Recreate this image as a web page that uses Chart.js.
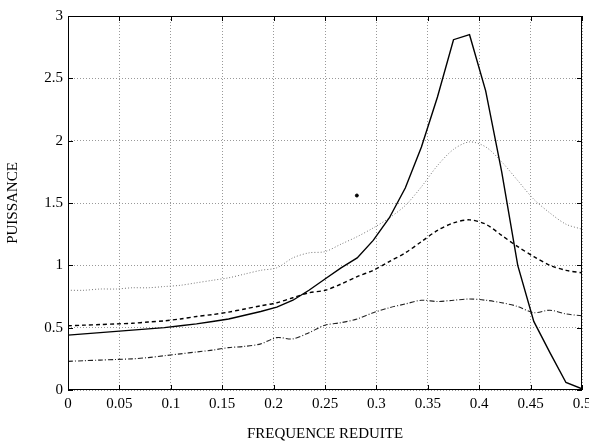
<!DOCTYPE html>
<html>
<head>
<meta charset="utf-8">
<script src="https://cdn.jsdelivr.net/npm/chart.js@4.4.1/dist/chart.umd.min.js"></script>
<style>
  body { margin: 0; background: #fff; }
  #wrap { width: 589px; height: 444px; }
</style>
</head>
<body>
<div id="wrap"><canvas id="chart-psd" width="589" height="444"></canvas></div>
<script>
// reduced frequency (x axis)
let freq = [0, 0.0156, 0.0313, 0.0469, 0.0625, 0.0781, 0.0938, 0.1094, 0.125, 0.1406,
  0.1563, 0.1719, 0.1875, 0.2031, 0.2188, 0.2344, 0.25, 0.2656, 0.2813, 0.2969,
  0.3125, 0.3281, 0.3438, 0.3594, 0.375, 0.3906, 0.4063, 0.4219, 0.4375, 0.4531,
  0.4688, 0.4844, 0.5];

// power spectra
let solid = [0.44, 0.45, 0.46, 0.47, 0.48, 0.49, 0.50, 0.515, 0.53, 0.55,
  0.57, 0.60, 0.63, 0.665, 0.72, 0.80, 0.89, 0.98, 1.06, 1.20,
  1.38, 1.62, 1.95, 2.35, 2.81, 2.85, 2.40, 1.75, 1.00, 0.55,
  0.30, 0.06, 0.01];
let dotted = [0.80, 0.80, 0.81, 0.81, 0.82, 0.82, 0.83, 0.84, 0.86, 0.88,
  0.90, 0.93, 0.96, 0.98, 1.06, 1.10, 1.11, 1.17, 1.23, 1.30,
  1.38, 1.48, 1.63, 1.80, 1.93, 1.99, 1.95, 1.83, 1.68, 1.53,
  1.42, 1.33, 1.29];
let dashed = [0.515, 0.52, 0.525, 0.53, 0.535, 0.545, 0.555, 0.57, 0.59, 0.605,
  0.625, 0.65, 0.675, 0.70, 0.74, 0.78, 0.80, 0.85, 0.91, 0.96,
  1.03, 1.10, 1.19, 1.28, 1.34, 1.365, 1.33, 1.24, 1.15, 1.07,
  1.00, 0.96, 0.94];
let dashDot = [0.23, 0.235, 0.24, 0.245, 0.25, 0.26, 0.275, 0.29, 0.305, 0.32,
  0.34, 0.35, 0.37, 0.42, 0.41, 0.46, 0.52, 0.54, 0.57, 0.62,
  0.66, 0.69, 0.72, 0.71, 0.72, 0.73, 0.72, 0.70, 0.67, 0.62,
  0.64, 0.61, 0.595];
// stray dot in the original figure
let strayX = [0.281];
let strayY = [1.56];

let xTicks = [0, 0.05, 0.1, 0.15, 0.2, 0.25, 0.3, 0.35, 0.4, 0.45, 0.5];
let yTicks = [0, 0.5, 1, 1.5, 2, 2.5, 3];

const toPoints = (ys) => ys.map((y, i) => ({ x: freq[i], y: y }));

// matlab style box with inward ticks
const boxTicks = {
  id: 'boxTicks',
  afterDatasetsDraw(chart) {
    const { ctx, chartArea: a, scales } = chart;
    ctx.save();
    ctx.strokeStyle = '#000';
    ctx.lineWidth = 1;
    ctx.setLineDash([]);
    ctx.strokeRect(a.left + 0.5, a.top + 0.5, a.right - a.left - 1, a.bottom - a.top - 1);
    ctx.beginPath();
    xTicks.forEach((v) => {
      const px = Math.round(scales.x.getPixelForValue(v)) + 0.5;
      ctx.moveTo(px, a.bottom); ctx.lineTo(px, a.bottom - 5);
      ctx.moveTo(px, a.top); ctx.lineTo(px, a.top + 5);
    });
    yTicks.forEach((v) => {
      const py = Math.round(scales.y.getPixelForValue(v)) + 0.5;
      ctx.moveTo(a.left, py); ctx.lineTo(a.left + 5, py);
      ctx.moveTo(a.right, py); ctx.lineTo(a.right - 5, py);
    });
    ctx.stroke();
    ctx.restore();
  }
};

const serif = "'Liberation Serif', 'DejaVu Serif', serif";

new Chart(document.getElementById('chart-psd').getContext('2d'), {
  type: 'line',
  data: {
    datasets: [
      {
        data: toPoints(solid),
        borderColor: '#000',
        borderWidth: 1.4,
        pointRadius: 0,
        tension: 0
      },
      {
        data: toPoints(dotted),
        borderColor: '#777',
        borderWidth: 1,
        borderDash: [1, 2],
        pointRadius: 0,
        tension: 0.3
      },
      {
        data: toPoints(dashed),
        borderColor: '#000',
        borderWidth: 1.4,
        borderDash: [4, 3],
        pointRadius: 0,
        tension: 0.3
      },
      {
        data: toPoints(dashDot),
        borderColor: '#222',
        borderWidth: 1.1,
        borderDash: [5, 2, 1, 2],
        pointRadius: 0,
        tension: 0.3
      },
      {
        type: 'scatter',
        data: strayX.map((x, i) => ({ x: x, y: strayY[i] })),
        backgroundColor: '#000',
        borderColor: '#000',
        pointRadius: 1.5
      }
    ]
  },
  options: {
    responsive: false,
    animation: false,
    layout: { autoPadding: false, padding: { top: 16, right: 7, left: 0, bottom: 0 } },
    plugins: {
      legend: { display: false },
      tooltip: { enabled: false }
    },
    scales: {
      x: {
        type: 'linear',
        min: 0,
        max: 0.5,
        afterFit: (s) => { s.height = 54; s.paddingLeft = 0; s.paddingRight = 0; },
        afterBuildTicks: (s) => { s.ticks = xTicks.map((v) => ({ value: v })); },
        grid: {
          color: '#999',
          lineWidth: 1,
          drawTicks: false
        },
        border: { display: false, dash: [1, 2] },
        ticks: {
          padding: 5,
          color: '#000',
          maxRotation: 0,
          callback: (v) => String(v),
          font: { family: serif, size: 15 }
        },
        title: {
          display: true,
          text: 'FREQUENCE REDUITE',
          color: '#000',
          padding: { top: 0, bottom: 1 },
          font: { family: serif, size: 15 }
        }
      },
      y: {
        min: 0,
        max: 3,
        afterFit: (s) => { s.width = 68; s.paddingTop = 0; s.paddingBottom = 0; },
        afterBuildTicks: (s) => { s.ticks = yTicks.map((v) => ({ value: v })); },
        grid: {
          color: '#999',
          lineWidth: 1,
          drawTicks: false
        },
        border: { display: false, dash: [1, 2] },
        ticks: {
          padding: 5,
          color: '#000',
          callback: (v) => String(v),
          font: { family: serif, size: 15 }
        },
        title: {
          display: true,
          text: 'PUISSANCE',
          color: '#000',
          padding: { top: 4, bottom: 0 },
          font: { family: serif, size: 15 }
        }
      }
    }
  },
  plugins: [boxTicks]
});
</script>
</body>
</html>
